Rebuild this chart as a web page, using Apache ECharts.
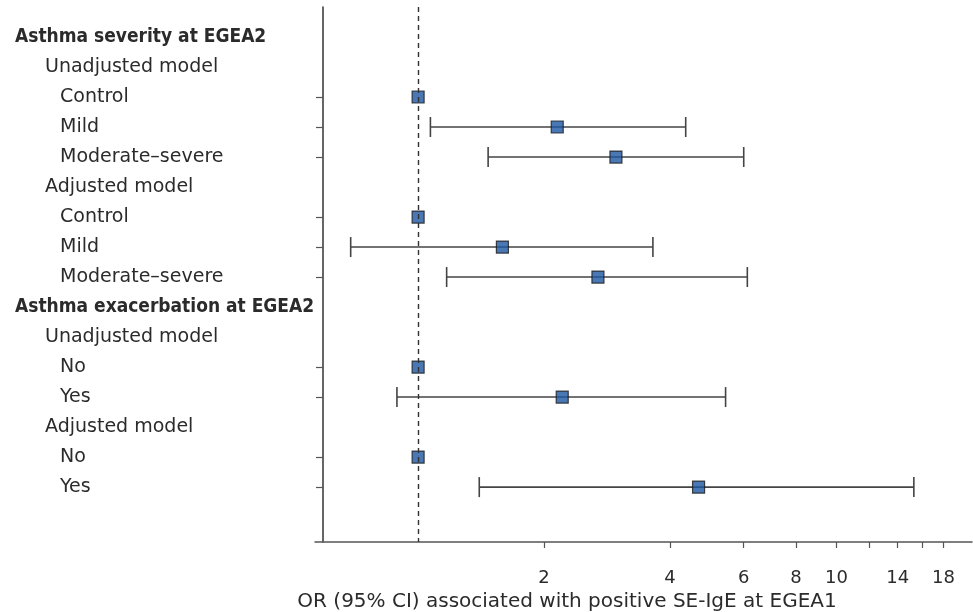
<!DOCTYPE html>
<html>
<head>
<meta charset="utf-8">
<script src="https://cdn.jsdelivr.net/npm/echarts@6/dist/echarts.min.js"></script>
<style>
  html, body { margin: 0; padding: 0; background: #fff; }
  #chart { width: 973px; height: 612px; }
</style>
</head>
<body>
<div id="chart"></div>
<script>
// rows from top to bottom, level 0 = heading, 1 = model, 2 = group
const rowLabels = [
  'Asthma severity at EGEA2', 'Unadjusted model', 'Control', 'Mild', 'Moderate–severe',
  'Adjusted model', 'Control', 'Mild', 'Moderate–severe',
  'Asthma exacerbation at EGEA2', 'Unadjusted model', 'No', 'Yes',
  'Adjusted model', 'No', 'Yes'
]
const rowLevel = [0, 1, 2, 2, 2, 1, 2, 2, 2, 0, 1, 2, 2, 1, 2, 2]
// odds ratios and 95% CI (null = no estimate on that row)
const oddsRatio = [null, null, 1, 2.15, 2.97, null, 1, 1.59, 2.69, null, null, 1, 2.21, null, 1, 4.68]
const ciLower = [null, null, null, 1.07, 1.47, null, null, 0.69, 1.17, null, null, null, 0.89, null, null, 1.40]
const ciUpper = [null, null, null, 4.36, 6.0, null, null, 3.64, 6.12, null, null, null, 5.43, null, null, 15.3]
const xTicks = [2, 4, 6, 8, 10, 12, 14, 16, 18]
const xTickLabels = [2, 4, 6, 8, 10, 14, 18]

const textColor = '#2b2b2b'
const fontFamily = 'DejaVu Sans'
const fontSize = 19

let myChart = echarts.init(document.getElementById('chart'))

let pointData = []
let ciData = []
let tickRows = []
oddsRatio.forEach((v, i) => {
  if (v != null) {
    pointData.push([v, i])
    tickRows.push(i)
  }
  if (ciLower[i] != null) {
    ciData.push([ciLower[i], ciUpper[i], i])
  }
})

let option = {
  animation: false,
  grid: {
    left: 315,
    right: 1,
    top: 7,
    bottom: 70,
    outerBoundsMode: 'none'
  },
  xAxis: {
    type: 'log',
    logBase: 2,
    min: 0.567,
    max: 21.07,
    name: 'OR (95% CI) associated with positive SE-IgE at EGEA1',
    nameLocation: 'middle',
    nameGap: 49,
    nameTextStyle: {
      color: textColor,
      fontFamily: fontFamily,
      fontSize: 20,
      padding: [0, 153, 0, 0]
    },
    axisLine: {
      show: true,
      onZero: false,
      lineStyle: { color: '#555', width: 1.5 }
    },
    axisTick: {
      show: true,
      length: 6,
      customValues: xTicks,
      lineStyle: { color: '#555', width: 1.2 }
    },
    axisLabel: {
      customValues: xTickLabels,
      margin: 27,
      color: textColor,
      fontFamily: fontFamily,
      fontSize: 18
    },
    splitLine: { show: false },
    minorTick: { show: false }
  },
  yAxis: {
    type: 'value',
    inverse: true,
    min: -1,
    max: 16.83,
    interval: 1,
    offset: -8,
    axisLine: {
      show: true,
      onZero: false,
      lineStyle: { color: '#333', width: 1.5 }
    },
    axisTick: {
      show: true,
      length: 7,
      customValues: tickRows,
      lineStyle: { color: '#555', width: 1.2 }
    },
    axisLabel: {
      customValues: rowLabels.map((d, i) => i),
      align: 'left',
      margin: 308,
      formatter: function (val) {
        let i = Math.round(val)
        let style = ['h', 'm', 'g'][rowLevel[i]]
        return '{' + style + '|' + rowLabels[i] + '}'
      },
      rich: {
        h: { fontWeight: 'bold', color: textColor, fontFamily: 'DejaVu Sans Condensed', fontSize: fontSize },
        m: { color: textColor, fontFamily: fontFamily, fontSize: fontSize, padding: [0, 0, 0, 30] },
        g: { color: textColor, fontFamily: fontFamily, fontSize: fontSize, padding: [0, 0, 0, 45] }
      }
    },
    splitLine: { show: false }
  },
  series: [
    {
      type: 'custom',
      name: 'CI',
      data: ciData,
      encode: { x: [0, 1], y: 2 },
      renderItem: function (params, api) {
        let y = api.value(2)
        let p1 = api.coord([api.value(0), y])
        let p2 = api.coord([api.value(1), y])
        let h = 10
        let style = { stroke: '#444', lineWidth: 1.6 }
        return {
          type: 'group',
          children: [
            { type: 'line', shape: { x1: p1[0], y1: p1[1], x2: p2[0], y2: p2[1] }, style: style },
            { type: 'line', shape: { x1: p1[0], y1: p1[1] - h, x2: p1[0], y2: p1[1] + h }, style: style },
            { type: 'line', shape: { x1: p2[0], y1: p2[1] - h, x2: p2[0], y2: p2[1] + h }, style: style }
          ]
        }
      },
      z: 2
    },
    {
      type: 'scatter',
      name: 'OR',
      data: pointData,
      symbol: 'rect',
      symbolSize: 12,
      itemStyle: {
        color: '#1b56a3',
        borderColor: '#1a1a1a',
        borderWidth: 1.2
      },
      markLine: {
        silent: true,
        symbol: 'none',
        label: { show: false },
        lineStyle: { type: [5, 4], color: '#333', width: 1.4 },
        data: [{ xAxis: 1 }]
      },
      z: 3
    }
  ]
}
myChart.setOption(option)
</script>
</body>
</html>
